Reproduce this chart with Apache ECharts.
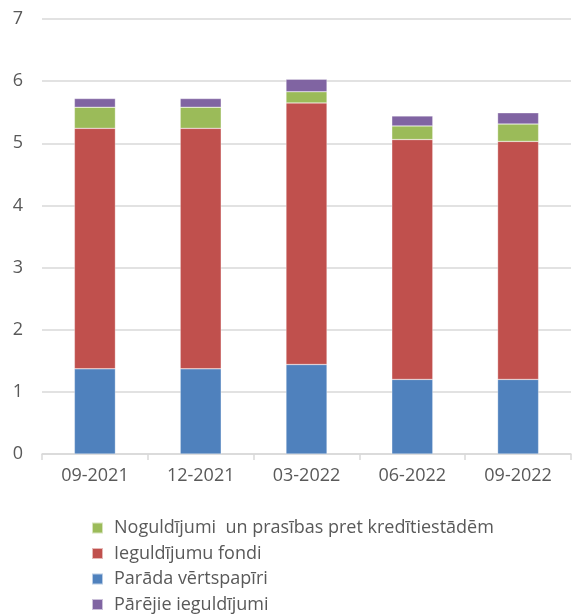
<!DOCTYPE html>
<html>
<head>
<meta charset="utf-8">
<title>Ieguldījumi</title>
<script src="https://cdn.jsdelivr.net/npm/echarts@6/dist/echarts.min.js"></script>
<style>
  html, body { margin: 0; padding: 0; background: #fff; }
  #chart { width: 586px; height: 614px; }
</style>
</head>
<body>
<div id="chart"></div>
<script>
var categories = ['09-2021', '12-2021', '03-2022', '06-2022', '09-2022'];
var paradaVertspapiri = [1.37, 1.37, 1.44, 1.20, 1.20];
var ieguldijumuFondi = [3.87, 3.87, 4.21, 3.86, 3.83];
var noguldijumi = [0.34, 0.34, 0.18, 0.22, 0.28];
var parejie = [0.14, 0.14, 0.20, 0.16, 0.18];
var yTicks = [0, 1, 2, 3, 4, 5, 6, 7];

var font = '"Open Sans", sans-serif';

function bar(name, data, color) {
    return {
        name: name, type: 'bar', stack: 'kopa', data: data, barWidth: 41,
        itemStyle: { color: color, borderColor: 'rgba(255,255,255,0.6)', borderWidth: 0.5 }
    };
}

var chart = echarts.init(document.getElementById('chart'));
chart.setOption({
    animation: false,
    textStyle: { fontFamily: font },
    grid: { left: 42, right: 15, top: 19, bottom: 160 },
    legend: {
        orient: 'vertical', left: 91, top: 519, height: 110, padding: 0,
        itemWidth: 11, itemHeight: 11, itemGap: 7.5, icon: 'rect',
        textStyle: { fontSize: 18, lineHeight: 18, color: '#595959', fontFamily: font, padding: [0, 0, 0, 6] },
        data: ['Noguldījumi  un prasības pret kredītiestādēm', 'Ieguldījumu fondi', 'Parāda vērtspapīri', 'Pārējie ieguldījumi']
    },
    xAxis: {
        type: 'category', data: categories,
        axisLine: { lineStyle: { color: '#d9d9d9', width: 1.5 } },
        axisTick: { show: true, length: 6, lineStyle: { color: '#d9d9d9', width: 1.5 } },
        axisLabel: { fontSize: 18, color: '#595959', margin: 13 }
    },
    yAxis: {
        type: 'value', min: yTicks[0], max: yTicks[yTicks.length - 1], interval: 1,
        axisLine: { show: false }, axisTick: { show: false },
        axisLabel: { fontSize: 18, color: '#595959', margin: 19 },
        splitLine: { lineStyle: { color: '#d9d9d9', width: 1.5 } }
    },
    series: [
        bar('Parāda vērtspapīri', paradaVertspapiri, '#4f81bd'),
        bar('Ieguldījumu fondi', ieguldijumuFondi, '#c0504d'),
        bar('Noguldījumi  un prasības pret kredītiestādēm', noguldijumi, '#9bbb59'),
        bar('Pārējie ieguldījumi', parejie, '#8064a2')
    ]
});
</script>
</body>
</html>
